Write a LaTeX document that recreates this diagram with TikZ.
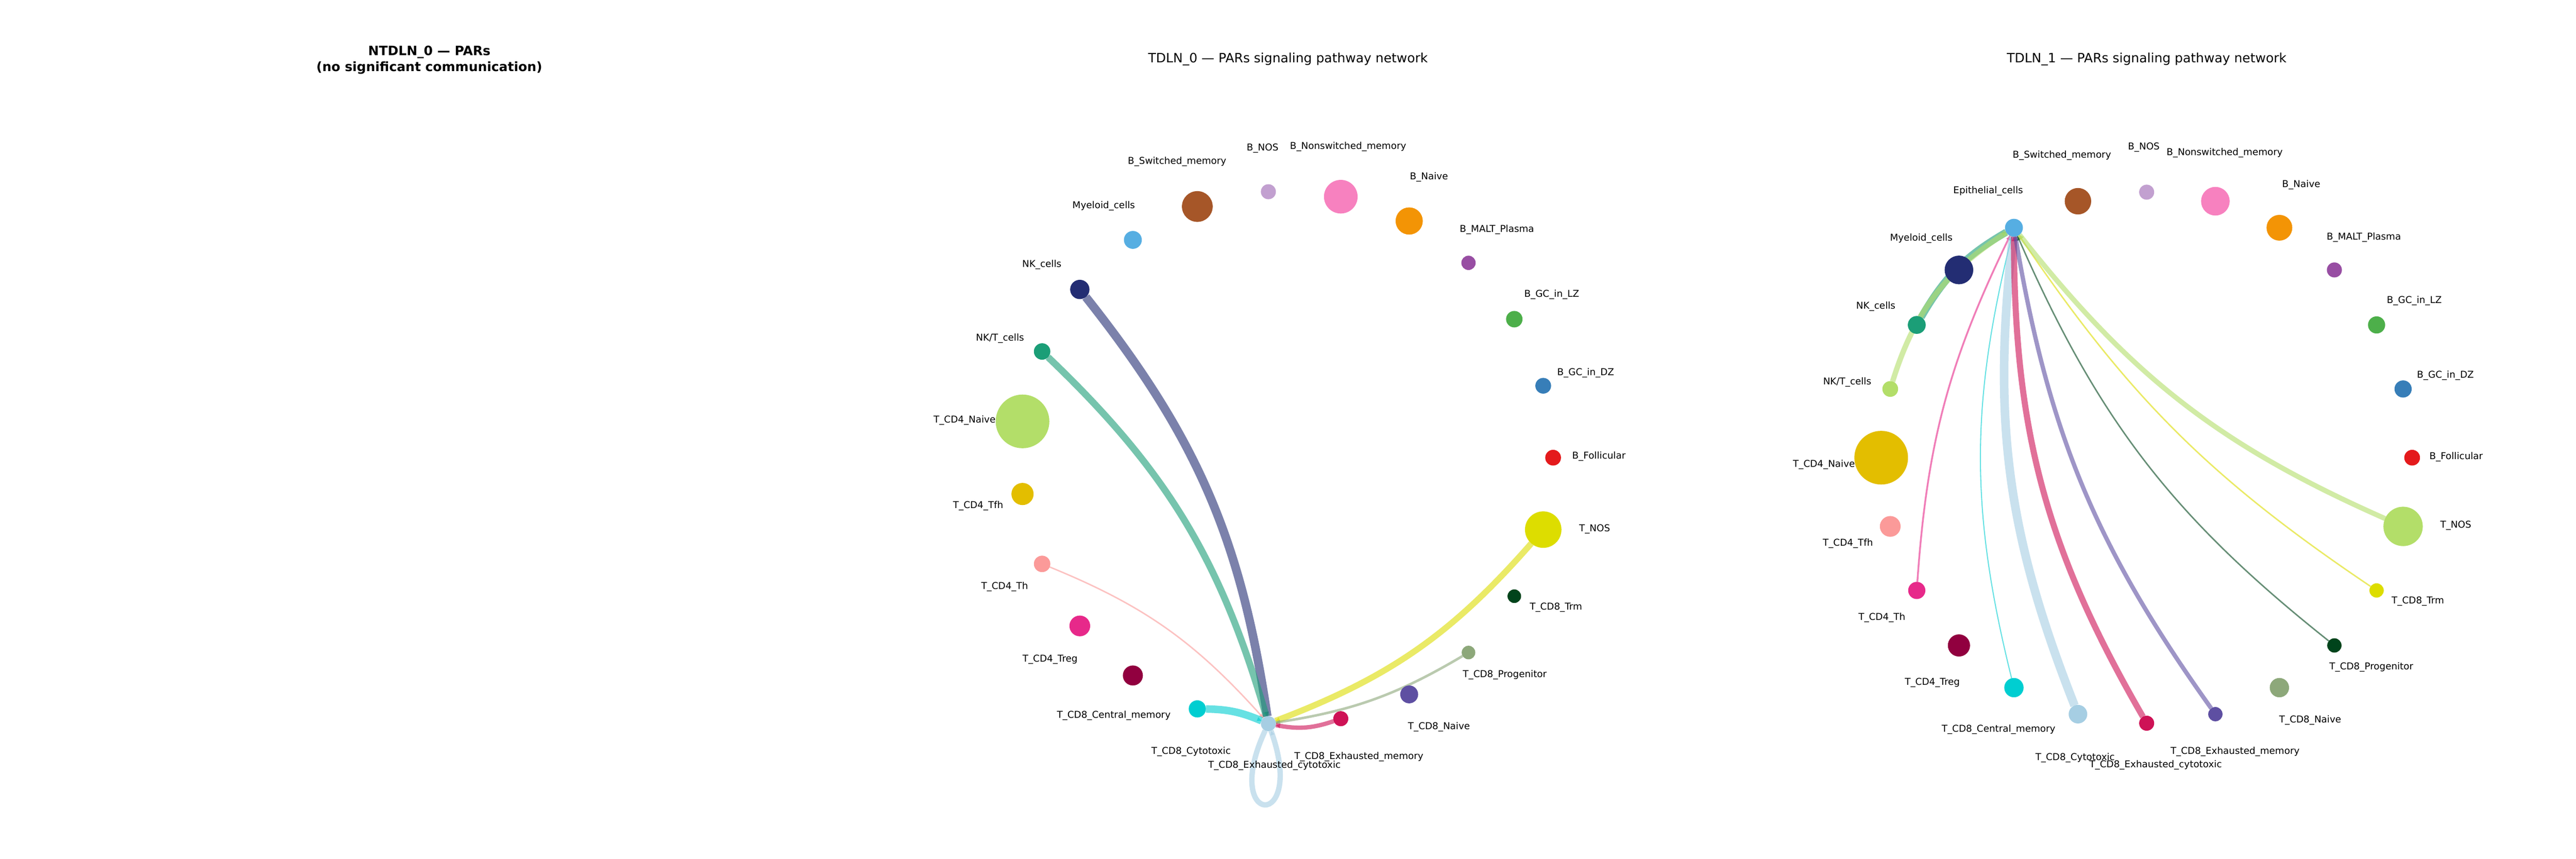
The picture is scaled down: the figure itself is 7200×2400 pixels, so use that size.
\documentclass[tikz,border=0pt]{standalone}
\usepackage{fontspec}
\setmainfont{DejaVu Sans}
\usetikzlibrary{calc,decorations.markings}
\pgfdeclarelayer{bg}
\pgfdeclarelayer{edges}
\pgfsetlayers{bg,edges,main}
\definecolor{cFol}{HTML}{E41A1C}
\definecolor{cDZ}{HTML}{377EB8}
\definecolor{cLZ}{HTML}{4DAF4A}
\definecolor{cMALT}{HTML}{984EA3}
\definecolor{cBnaive}{HTML}{F39405}
\definecolor{cBnsm}{HTML}{F781BF}
\definecolor{cBnos}{HTML}{C2A0D0}
\definecolor{cBsw}{HTML}{A65628}
\definecolor{cMye}{HTML}{56AEE2}
\definecolor{cNK}{HTML}{232D73}
\definecolor{cNKT}{HTML}{1B9E77}
\definecolor{cLG}{HTML}{B3DE69}
\definecolor{cGold}{HTML}{E3BE00}
\definecolor{cSalmon}{HTML}{FB9A99}
\definecolor{cMag}{HTML}{E7298A}
\definecolor{cDred}{HTML}{91003F}
\definecolor{cCyan}{HTML}{00CED1}
\definecolor{cLblue}{HTML}{A6CEE3}
\definecolor{cCrim}{HTML}{CE1256}
\definecolor{cPurp}{HTML}{5E4FA2}
\definecolor{cGgreen}{HTML}{8DA87A}
\definecolor{cDgreen}{HTML}{00441B}
\definecolor{cYel}{HTML}{DDDD00}
\tikzset{
  nd/.style 2 args={circle, inner sep=0pt, outer sep=0pt, draw=none, fill=#1, minimum size=#2},
  lbl/.style={font=\fontsize{1.32}{1.5}\selectfont, inner sep=0pt, anchor=center, text=black},
  ttl/.style={font=\fontsize{1.8}{2.2}\selectfont, inner sep=0pt, anchor=center, text=black},
  ttlb/.style={font=\fontsize{1.8}{2.2}\selectfont\bfseries, inner sep=0pt, anchor=center, text=black},
  edge/.style 2 args={draw=#1, line width=#2, draw opacity=0.6, line cap=butt,
    postaction={decorate},
    decoration={markings, mark=at position 0.9999 with {\fill[#1, fill opacity=0.6] (0pt,0pt) -- (-0.6pt,0.3pt) -- (-0.6pt,-0.3pt) -- cycle;}}},
}
\begin{document}
\begin{tikzpicture}[x=0.05pt,y=0.05pt]
\useasboundingbox (0,0) rectangle (7200,-2400);
\begin{pgfonlayer}{bg}
\fill[white] (0,0) rectangle (7200,-2400);
\end{pgfonlayer}

% ---------- titles ----------
\node[ttlb] (t0a) at (1200,-145) {NTDLN\_0 — PARs};
\node[ttlb] (t0b) at (1200,-190) {(no significant communication)};
\node[ttl] (t1) at (3600,-165) {TDLN\_0 — PARs signaling pathway network};
\node[ttl] (t2) at (6000,-165) {TDLN\_1 — PARs signaling pathway network};

% ---------- TDLN_0 network ----------
\coordinate (c0) at (3596,-1279);
\node[nd={cFol}{2.2pt}]    (fol0)  at ($(c0)+({0*360/23}:745)$) {};
\node[nd={cDZ}{2.2pt}]     (dz0)   at ($(c0)+({1*360/23}:745)$) {};
\node[nd={cLZ}{2.3pt}]     (lz0)   at ($(c0)+({2*360/23}:745)$) {};
\node[nd={cMALT}{2.0pt}]   (malt0) at ($(c0)+({3*360/23}:745)$) {};
\node[nd={cBnaive}{3.8pt}] (bn0)   at ($(c0)+({4*360/23}:745)$) {};
\node[nd={cBnsm}{4.7pt}]   (bnsm0) at ($(c0)+({5*360/23}:745)$) {};
\node[nd={cBnos}{2.1pt}]   (bnos0) at ($(c0)+({6*360/23}:745)$) {};
\node[nd={cBsw}{4.3pt}]    (bsw0)  at ($(c0)+({7*360/23}:745)$) {};
\node[nd={cMye}{2.5pt}]    (mye0)  at ($(c0)+({8*360/23}:745)$) {};
\node[nd={cNK}{2.7pt}]     (nk0)   at ($(c0)+({9*360/23}:745)$) {};
\node[nd={cNKT}{2.3pt}]    (nkt0)  at ($(c0)+({10*360/23}:745)$) {};
\node[nd={cLG}{7.5pt}]     (cd4n0) at ($(c0)+({11*360/23}:745)$) {};
\node[nd={cGold}{3.1pt}]   (tfh0)  at ($(c0)+({12*360/23}:745)$) {};
\node[nd={cSalmon}{2.3pt}] (th0)   at ($(c0)+({13*360/23}:745)$) {};
\node[nd={cMag}{2.9pt}]    (treg0) at ($(c0)+({14*360/23}:745)$) {};
\node[nd={cDred}{2.8pt}]   (cm0)   at ($(c0)+({15*360/23}:745)$) {};
\node[nd={cCyan}{2.4pt}]   (cyt0)  at ($(c0)+({16*360/23}:745)$) {};
\node[nd={cLblue}{2.1pt}]  (exc0)  at ($(c0)+({17*360/23}:745)$) {};
\node[nd={cCrim}{2.1pt}]   (exm0)  at ($(c0)+({18*360/23}:745)$) {};
\node[nd={cPurp}{2.5pt}]   (cd8n0) at ($(c0)+({19*360/23}:745)$) {};
\node[nd={cGgreen}{1.9pt}] (prog0) at ($(c0)+({20*360/23}:745)$) {};
\node[nd={cDgreen}{1.9pt}] (trm0)  at ($(c0)+({21*360/23}:745)$) {};
\node[nd={cYel}{5.1pt}]    (tnos0) at ($(c0)+({22*360/23}:745)$) {};

\begin{pgfonlayer}{edges}
\draw[edge={cNK}{1.2pt}]      (nk0)   to[bend left=15] (exc0);
\draw[edge={cNKT}{0.95pt}]    (nkt0)  to[bend left=15] (exc0);
\draw[edge={cSalmon}{0.2pt}]  (th0)   to[bend left=13] (exc0);
\draw[edge={cCyan}{1.05pt}]   (cyt0)  to[bend left=11] (exc0);
\draw[edge={cYel}{0.85pt}]    (tnos0) to[bend left=14] (exc0);
\draw[edge={cGgreen}{0.35pt}] (prog0) to[bend left=11] (exc0);
\draw[edge={cCrim}{0.6pt}]    (exm0)  to[bend left=15] (exc0);
\draw[edge={cLblue}{0.75pt}]  (exc0)  to[out=245,in=290,distance=15pt] (exc0);
\end{pgfonlayer}

\node[lbl] (lfol0)  at (4469,-1276) {B\_Follicular};
\node[lbl] (ldz0)   at (4432,-1042) {B\_GC\_in\_DZ};
\node[lbl] (llz0)   at (4337,-823)  {B\_GC\_in\_LZ};
\node[lbl] (lmalt0) at (4184,-642)  {B\_MALT\_Plasma};
\node[lbl] (lbn0)   at (3994,-495)  {B\_Naive};
\node[lbl] (lbnsm0) at (3768,-410)  {B\_Nonswitched\_memory};
\node[lbl] (lbnos0) at (3529,-414)  {B\_NOS};
\node[lbl] (lbsw0)  at (3290,-452)  {B\_Switched\_memory};
\node[lbl] (lmye0)  at (3085,-576)  {Myeloid\_cells};
\node[lbl] (lnk0)   at (2912,-739)  {NK\_cells};
\node[lbl] (lnkt0)  at (2795,-946)  {NK/T\_cells};
\node[lbl] (lcd4n0) at (2696,-1175) {T\_CD4\_Naive};
\node[lbl] (ltfh0)  at (2734,-1414) {T\_CD4\_Tfh};
\node[lbl] (lth0)   at (2808,-1640) {T\_CD4\_Th};
\node[lbl] (ltreg0) at (2935,-1843) {T\_CD4\_Treg};
\node[lbl] (lcm0)   at (3113,-2000) {T\_CD8\_Central\_memory};
\node[lbl] (lcyt0)  at (3329,-2100) {T\_CD8\_Cytotoxic};
\node[lbl] (lexc0)  at (3562,-2139) {T\_CD8\_Exhausted\_cytotoxic};
\node[lbl] (lexm0)  at (3798,-2115) {T\_CD8\_Exhausted\_memory};
\node[lbl] (lcd8n0) at (4022,-2031) {T\_CD8\_Naive};
\node[lbl] (lprog0) at (4206,-1886) {T\_CD8\_Progenitor};
\node[lbl] (ltrm0)  at (4349,-1697) {T\_CD8\_Trm};
\node[lbl] (ltnos0) at (4457,-1478) {T\_NOS};

% ---------- TDLN_1 network ----------
\coordinate (c1) at (6000,-1279);
\node[nd={cFol}{2.2pt}]    (fol1)  at ($(c1)+({0*15}:742)$) {};
\node[nd={cDZ}{2.4pt}]     (dz1)   at ($(c1)+({1*15}:742)$) {};
\node[nd={cLZ}{2.4pt}]     (lz1)   at ($(c1)+({2*15}:742)$) {};
\node[nd={cMALT}{2.1pt}]   (malt1) at ($(c1)+({3*15}:742)$) {};
\node[nd={cBnaive}{3.6pt}] (bn1)   at ($(c1)+({4*15}:742)$) {};
\node[nd={cBnsm}{4.0pt}]   (bnsm1) at ($(c1)+({5*15}:742)$) {};
\node[nd={cBnos}{2.1pt}]   (bnos1) at ($(c1)+({6*15}:742)$) {};
\node[nd={cBsw}{3.7pt}]    (bsw1)  at ($(c1)+({7*15}:742)$) {};
\node[nd={cMye}{2.5pt}]    (epi1)  at ($(c1)+({8*15}:742)$) {};
\node[nd={cNK}{4.0pt}]     (mye1)  at ($(c1)+({9*15}:742)$) {};
\node[nd={cNKT}{2.5pt}]    (nk1)   at ($(c1)+({10*15}:742)$) {};
\node[nd={cLG}{2.2pt}]     (nkt1)  at ($(c1)+({11*15}:742)$) {};
\node[nd={cGold}{7.5pt}]   (cd4n1) at ($(c1)+({12*15}:742)$) {};
\node[nd={cSalmon}{2.9pt}] (tfh1)  at ($(c1)+({13*15}:742)$) {};
\node[nd={cMag}{2.4pt}]    (th1)   at ($(c1)+({14*15}:742)$) {};
\node[nd={cDred}{3.1pt}]   (treg1) at ($(c1)+({15*15}:742)$) {};
\node[nd={cCyan}{2.7pt}]   (cm1)   at ($(c1)+({16*15}:742)$) {};
\node[nd={cLblue}{2.6pt}]  (cyt1)  at ($(c1)+({17*15}:742)$) {};
\node[nd={cCrim}{2.1pt}]   (exc1)  at ($(c1)+({18*15}:742)$) {};
\node[nd={cPurp}{2.0pt}]   (exm1)  at ($(c1)+({19*15}:742)$) {};
\node[nd={cGgreen}{2.7pt}] (cd8n1) at ($(c1)+({20*15}:742)$) {};
\node[nd={cDgreen}{2.0pt}] (prog1) at ($(c1)+({21*15}:742)$) {};
\node[nd={cYel}{2.0pt}]    (trm1)  at ($(c1)+({22*15}:742)$) {};
\node[nd={cLG}{5.5pt}]     (tnos1) at ($(c1)+({23*15}:742)$) {};

\begin{pgfonlayer}{edges}
\draw[edge={cNKT}{1.0pt}]     (nk1)   to[bend left=15] (epi1);
\draw[edge={cLG}{0.75pt}]     (nkt1)  to[bend left=20] (epi1);
\draw[edge={cMag}{0.25pt}]    (th1)   to[bend left=11] (epi1);
\draw[edge={cCyan}{0.15pt}]   (cm1)   to[bend left=14] (epi1);
\draw[edge={cLblue}{1.2pt}]   (cyt1)  to[bend left=14] (epi1);
\draw[edge={cCrim}{0.85pt}]   (exc1)  to[bend left=15] (epi1);
\draw[edge={cPurp}{0.6pt}]    (exm1)  to[bend left=13] (epi1);
\draw[edge={cDgreen}{0.2pt}]  (prog1) to[bend left=14] (epi1);
\draw[edge={cYel}{0.2pt}]     (trm1)  to[bend left=11] (epi1);
\draw[edge={cLG}{0.7pt}]      (tnos1) to[bend left=14] (epi1);
\end{pgfonlayer}

\node[lbl] (lfol1)  at (6865,-1277) {B\_Follicular};
\node[lbl] (ldz1)   at (6835,-1050) {B\_GC\_in\_DZ};
\node[lbl] (llz1)   at (6748,-841)  {B\_GC\_in\_LZ};
\node[lbl] (lmalt1) at (6607,-663)  {B\_MALT\_Plasma};
\node[lbl] (lbn1)   at (6432,-516)  {B\_Naive};
\node[lbl] (lbnsm1) at (6218,-427)  {B\_Nonswitched\_memory};
\node[lbl] (lbnos1) at (5992,-412)  {B\_NOS};
\node[lbl] (lbsw1)  at (5763,-434)  {B\_Switched\_memory};
\node[lbl] (lepi1)  at (5557,-534)  {Epithelial\_cells};
\node[lbl] (lmye1)  at (5370,-666)  {Myeloid\_cells};
\node[lbl] (lnk1)   at (5243,-856)  {NK\_cells};
\node[lbl] (lnkt1)  at (5163,-1068) {NK/T\_cells};
\node[lbl] (lcd4n1) at (5098,-1299) {T\_CD4\_Naive};
\node[lbl] (ltfh1)  at (5165,-1519) {T\_CD4\_Tfh};
\node[lbl] (lth1)   at (5260,-1726) {T\_CD4\_Th};
\node[lbl] (ltreg1) at (5401,-1908) {T\_CD4\_Treg};
\node[lbl] (lcm1)   at (5586,-2039) {T\_CD8\_Central\_memory};
\node[lbl] (lcyt1)  at (5800,-2118) {T\_CD8\_Cytotoxic};
\node[lbl] (lexc1)  at (6025,-2138) {T\_CD8\_Exhausted\_cytotoxic};
\node[lbl] (lexm1)  at (6247,-2101) {T\_CD8\_Exhausted\_memory};
\node[lbl] (lcd8n1) at (6457,-2012) {T\_CD8\_Naive};
\node[lbl] (lprog1) at (6628,-1865) {T\_CD8\_Progenitor};
\node[lbl] (ltrm1)  at (6758,-1680) {T\_CD8\_Trm};
\node[lbl] (ltnos1) at (6864,-1469) {T\_NOS};
\end{tikzpicture}
\end{document}
